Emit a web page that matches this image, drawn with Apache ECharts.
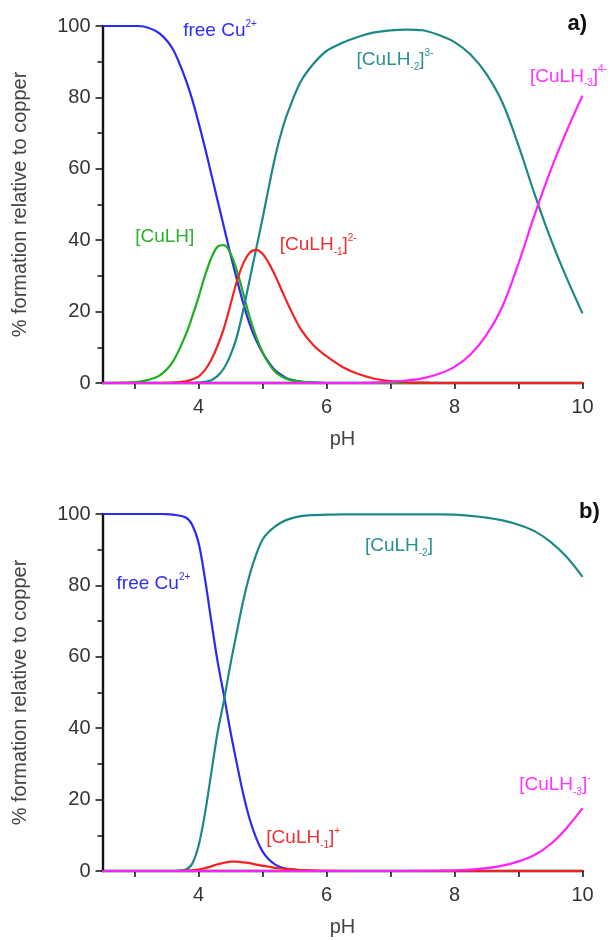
<!DOCTYPE html>
<html>
<head>
<meta charset="utf-8">
<script src="https://cdn.jsdelivr.net/npm/echarts@6/dist/echarts.min.js"></script>
<style>
  html, body { margin: 0; padding: 0; background: #fff; }
  #chart { width: 616px; height: 940px; }
</style>
</head>
<body>
<div id="chart"></div>
<script>
// pH grid shared by both panels (denser where the curves bend)
let pH = [2.5, 3.0, 3.2, 3.4, 3.6,
    3.8, 3.9, 4.0, 4.1, 4.2, 4.3, 4.4, 4.5, 4.6, 4.7, 4.8, 4.9, 5.0, 5.1, 5.2, 5.3, 5.4,
    5.6, 5.8, 6.0,
    6.25, 6.5, 6.75, 7.0, 7.25, 7.5, 7.75, 8.0, 8.25, 8.5, 8.75, 9.0, 9.25, 9.5, 9.75, 10.0];

// panel a)
let freeCuA = [100, 100, 99.6, 97.8, 93.5,
    85, 79.5, 73, 66, 58.5, 51, 43.5, 36, 29, 22.3, 16.5, 12, 8.5, 5.7, 3.5, 2.2, 1.2,
    0.4, 0.1, 0,
    0, 0, 0, 0, 0, 0, 0, 0, 0, 0, 0, 0, 0, 0, 0, 0];
let culhA = [0, 0.2, 0.8, 2.2, 6,
    13.5, 18.5, 24, 30, 35, 38.2, 38.6, 36.3, 31.5, 25, 18.5, 13, 8.7, 5.4, 3.1, 1.8, 1,
    0.3, 0.1, 0,
    0, 0, 0, 0, 0, 0, 0, 0, 0, 0, 0, 0, 0, 0, 0, 0];
let culh1A = [0, 0, 0, 0, 0.1,
    0.5, 1, 1.8, 3.6, 6.5, 10.5, 15.5, 22, 28.5, 33.5, 36.5, 37.3, 36.2, 33.5, 30, 26, 22,
    15, 10.5, 7.5,
    4.5, 2.5, 1.2, 0.5, 0.2, 0.1, 0, 0, 0, 0, 0, 0, 0, 0, 0, 0];
let culh2A = [0, 0, 0, 0, 0,
    0, 0, 0.1, 0.3, 0.8, 2, 4.2, 7.8, 13, 20.5, 29, 37.5, 46, 55, 63.5, 70.5, 76,
    84.5, 89.5, 93,
    95.3, 97, 98.2, 98.8, 99, 98.8, 97.5, 95.5, 92, 86.5, 78.5, 66.5, 53, 40.5, 29.5, 19.5];
let culh3A = [0, 0, 0, 0, 0,
    0, 0, 0, 0, 0, 0, 0, 0, 0, 0, 0, 0, 0, 0, 0, 0, 0,
    0, 0, 0,
    0, 0, 0.1, 0.3, 0.7, 1.3, 2.5, 4.5, 8, 13.5, 21.5, 33.5, 47, 59.5, 70.5, 80.5];

// panel b)
let freeCuB = [100, 100, 100, 100, 99.8,
    99, 97, 92, 82, 70, 58.5, 49, 39, 30, 21.5, 14.5, 9.3, 5.5, 3.2, 1.8, 1.0, 0.6,
    0.2, 0.05, 0,
    0, 0, 0, 0, 0, 0, 0, 0, 0, 0, 0, 0, 0, 0, 0, 0];
let culh1B = [0, 0, 0, 0, 0,
    0.1, 0.2, 0.4, 0.8, 1.3, 1.9, 2.3, 2.6, 2.6, 2.4, 2.2, 1.8, 1.5, 1.2, 0.9, 0.7, 0.5,
    0.25, 0.1, 0.05,
    0, 0, 0, 0, 0, 0, 0, 0, 0, 0, 0, 0, 0, 0, 0, 0];
let culh2B = [0, 0, 0, 0, 0,
    0.4, 2, 7, 16, 27.5, 39, 48, 58, 67, 75.8, 83, 88.6, 92.8, 95, 96.5, 97.7, 98.5,
    99.4, 99.7, 99.8,
    99.9, 99.9, 99.9, 99.9, 99.9, 99.9, 99.9, 99.8, 99.5, 99, 98.2, 97, 95.2, 92.2, 88, 82.4];
let culh3B = [0, 0, 0, 0, 0,
    0, 0, 0, 0, 0, 0, 0, 0, 0, 0, 0, 0, 0, 0, 0, 0, 0,
    0, 0, 0,
    0, 0, 0, 0, 0, 0.05, 0.1, 0.2, 0.4, 0.8, 1.5, 2.7, 4.5, 7.5, 12, 17.6];

// axis ticks
let xTicks = [3, 4, 5, 6, 7, 8, 9, 10];
let xLabels = [4, 6, 8, 10];

let colors = {
    blue: "#2a2af2",
    green: "#1fae1f",
    red: "#f02222",
    teal: "#1d8888",
    magenta: "#ff22ff"
};

let chart = echarts.init(document.getElementById("chart"));

function pairs(arr) {
    return pH.map(function (x, i) { return [x, arr[i]]; });
}

function line(name, arr, color, idx) {
    return {
        name: name,
        type: "line",
        xAxisIndex: idx,
        yAxisIndex: idx,
        data: pairs(arr),
        showSymbol: false,
        smooth: 0.35,
        lineStyle: {color: color, width: 2.2},
        itemStyle: {color: color},
        z: 3
    };
}

function xAxis(idx) {
    return {
        type: "value",
        gridIndex: idx,
        min: 2.5,
        max: 10,
        name: "pH",
        nameLocation: "middle",
        nameGap: 46,
        nameTextStyle: {fontSize: 20, color: "#444", fontFamily: "Liberation Sans"},
        axisLine: {onZero: false, lineStyle: {color: "#111", width: 2.4}},
        axisTick: {customValues: xTicks, length: 6, lineStyle: {color: "#111", width: 1.5}},
        axisLabel: {customValues: xLabels, margin: 14, fontSize: 20, color: "#333", fontFamily: "Liberation Sans"},
        splitLine: {show: false}
    };
}

function yAxis(idx) {
    return {
        type: "value",
        gridIndex: idx,
        min: 0,
        max: 100,
        interval: 20,
        name: "% formation relative to copper",
        nameLocation: "middle",
        nameGap: 72,
        nameTextStyle: {fontSize: 20, color: "#444", fontFamily: "Liberation Sans"},
        axisLine: {onZero: false, lineStyle: {color: "#111", width: 2.4}},
        axisTick: {length: 7, lineStyle: {color: "#111", width: 1.5}},
        minorTick: {show: true, splitNumber: 2, length: 5, lineStyle: {color: "#111", width: 1.5}},
        axisLabel: {margin: 12, fontSize: 20, color: "#333", fontFamily: "Liberation Sans"},
        splitLine: {show: false}
    };
}

chart.setOption({
    animation: false,
    backgroundColor: "#fff",
    grid: [
        {left: 102.5, top: 26, width: 480, height: 357},
        {left: 102.5, top: 514, width: 480, height: 357}
    ],
    xAxis: [xAxis(0), xAxis(1)],
    yAxis: [yAxis(0), yAxis(1)],
    series: [
        line("free Cu2+", freeCuA, colors.blue, 0),
        line("[CuLH]", culhA, colors.green, 0),
        line("[CuLH-2]3-", culh2A, colors.teal, 0),
        line("[CuLH-1]2-", culh1A, colors.red, 0),
        line("[CuLH-3]4-", culh3A, colors.magenta, 0),
        line("free Cu2+", freeCuB, colors.blue, 1),
        line("[CuLH-2]", culh2B, colors.teal, 1),
        line("[CuLH-1]+", culh1B, colors.red, 1),
        line("[CuLH-3]-", culh3B, colors.magenta, 1)
    ]
});

// species labels, anchored at data coordinates (left edge, middle)
let notes = [
    {g: 0, at: [3.76, 98.6], text: "{n|free Cu}{sup|2+}", color: "#2f2fee"},
    {g: 0, at: [6.47, 90.5], text: "{n|[CuLH}{sub|-2}{n|]}{sup|3-}", color: "#2a9090"},
    {g: 0, at: [9.18, 85.8], text: "{n|[CuLH}{sub|-3}{n|]}{sup|4-}", color: "#ff33ff"},
    {g: 0, at: [3.01, 41], text: "{n|[CuLH]}", color: "#2ab02a"},
    {g: 0, at: [5.27, 38.7], text: "{n|[CuLH}{sub|-1}{n|]}{sup|2-}", color: "#f03030"},
    {g: 1, at: [6.6, 91.1], text: "{n|[CuLH}{sub|-2}{n|]}", color: "#2a9090"},
    {g: 1, at: [2.72, 80.4], text: "{n|free Cu}{sup|2+}", color: "#2f2fee"},
    {g: 1, at: [9.01, 24.1], text: "{n|[CuLH}{sub|-3}{n|]}{sup|-}", color: "#ff33ff"},
    {g: 1, at: [5.06, 9.2], text: "{n|[CuLH}{sub|-1}{n|]}{sup|+}", color: "#f03030"}
];
let panels = [
    {g: 0, at: [10.07, 100.7], text: "a)"},
    {g: 1, at: [10.27, 100.7], text: "b)"}
];

let graphics = [];
notes.forEach(function (d) {
    let p = chart.convertToPixel({gridIndex: d.g}, d.at);
    graphics.push({
        type: "text",
        x: p[0],
        y: p[1],
        style: {
            text: d.text,
            fill: d.color,
            align: "left",
            verticalAlign: "middle",
            fontFamily: "Liberation Sans",
            rich: {
                n: {fontSize: 19, lineHeight: 24, fill: d.color, fontFamily: "Liberation Sans"},
                sup: {fontSize: 10, verticalAlign: "top", fill: d.color, fontFamily: "Liberation Sans"},
                sub: {fontSize: 10, verticalAlign: "bottom", fill: d.color, fontFamily: "Liberation Sans"}
            }
        }
    });
});
panels.forEach(function (d) {
    let p = chart.convertToPixel({gridIndex: d.g}, d.at);
    graphics.push({
        type: "text",
        x: p[0],
        y: p[1],
        style: {
            text: d.text,
            fill: "#111",
            align: "right",
            verticalAlign: "middle",
            fontSize: 22,
            fontWeight: "bold",
            fontFamily: "Liberation Sans"
        }
    });
});
chart.setOption({graphic: graphics});
</script>
</body>
</html>
